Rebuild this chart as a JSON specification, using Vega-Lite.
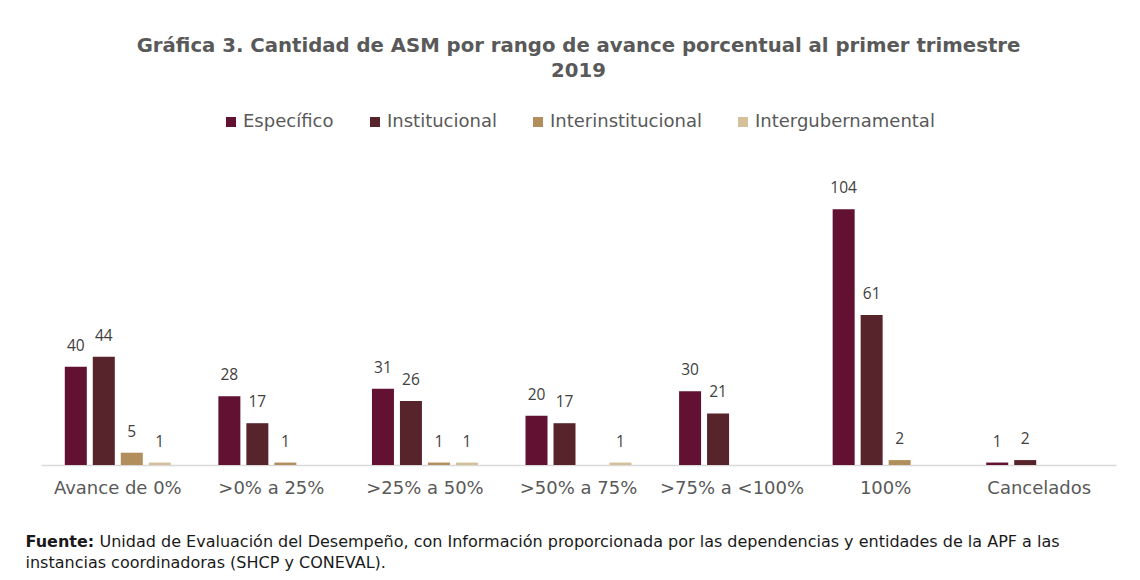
{
  "$schema": "https://vega.github.io/schema/vega-lite/v6.json",
  "width": 1075,
  "height": 295,
  "padding": {"left": 25, "top": 36, "right": 5, "bottom": 5},
  "background": "white",
  "title": {
    "text": ["Gráfica 3. Cantidad de ASM por rango de avance porcentual al primer trimestre", "2019"],
    "font": "DejaVu Sans",
    "fontSize": 19.7,
    "fontWeight": "bold",
    "color": "#595959",
    "lineHeight": 25,
    "anchor": "middle",
    "offset": 32
  },
  "data": {
    "values": [
      {"rango": "Avance de 0%", "tipo": "Específico", "valor": 40},
      {"rango": "Avance de 0%", "tipo": "Institucional", "valor": 44},
      {"rango": "Avance de 0%", "tipo": "Interinstitucional", "valor": 5},
      {"rango": "Avance de 0%", "tipo": "Intergubernamental", "valor": 1},
      {"rango": ">0% a 25%", "tipo": "Específico", "valor": 28},
      {"rango": ">0% a 25%", "tipo": "Institucional", "valor": 17},
      {"rango": ">0% a 25%", "tipo": "Interinstitucional", "valor": 1},
      {"rango": ">25% a 50%", "tipo": "Específico", "valor": 31},
      {"rango": ">25% a 50%", "tipo": "Institucional", "valor": 26},
      {"rango": ">25% a 50%", "tipo": "Interinstitucional", "valor": 1},
      {"rango": ">25% a 50%", "tipo": "Intergubernamental", "valor": 1},
      {"rango": ">50% a 75%", "tipo": "Específico", "valor": 20},
      {"rango": ">50% a 75%", "tipo": "Institucional", "valor": 17},
      {"rango": ">50% a 75%", "tipo": "Intergubernamental", "valor": 1},
      {"rango": ">75% a <100%", "tipo": "Específico", "valor": 30},
      {"rango": ">75% a <100%", "tipo": "Institucional", "valor": 21},
      {"rango": "100%", "tipo": "Específico", "valor": 104},
      {"rango": "100%", "tipo": "Institucional", "valor": 61},
      {"rango": "100%", "tipo": "Interinstitucional", "valor": 2},
      {"rango": "Cancelados", "tipo": "Específico", "valor": 1},
      {"rango": "Cancelados", "tipo": "Institucional", "valor": 2}
    ]
  },
  "encoding": {
    "x": {
      "field": "rango",
      "type": "nominal",
      "sort": ["Avance de 0%", ">0% a 25%", ">25% a 50%", ">50% a 75%", ">75% a <100%", "100%", "Cancelados"],
      "scale": {"paddingInner": 0, "paddingOuter": 0},
      "axis": {
        "labelAngle": 0,
        "labelFont": "DejaVu Sans",
        "labelFontSize": 18,
        "labelColor": "#595959",
        "labelPadding": 14,
        "labelLimit": 300,
        "ticks": false,
        "domainColor": "#D9D9D9",
        "domainWidth": 1.5,
        "grid": false,
        "title": "instancias coordinadoras (SHCP y CONEVAL).",
        "titleFont": "DejaVu Sans",
        "titleFontSize": 16,
        "titleFontWeight": "normal",
        "titleColor": "#1a1a1a",
        "titleAlign": "left",
        "titleBaseline": "alphabetic",
        "titleAnchor": "start",
        "titleX": -16,
        "titleY": 102
      }
    },
    "xOffset": {
      "field": "tipo",
      "type": "nominal",
      "sort": ["Específico", "Institucional", "Interinstitucional", "Intergubernamental"],
      "scale": {"paddingInner": 0.214, "paddingOuter": 0.85}
    }
  },
  "layer": [
    {
      "mark": {"type": "bar"},
      "encoding": {
        "y": {
          "field": "valor",
          "type": "quantitative",
          "scale": {"domain": [0, 120]},
          "axis": {
            "orient": "left",
            "labels": false,
            "ticks": false,
            "domain": false,
            "grid": false,
            "title": "Fuente:",
            "titleFont": "DejaVu Sans",
            "titleFontSize": 16,
            "titleFontWeight": "bold",
            "titleColor": "#1a1a1a",
            "titleAngle": 0,
            "titleAlign": "left",
            "titleBaseline": "alphabetic",
            "titleX": -16,
            "titleY": 376
          }
        },
        "color": {
          "field": "tipo",
          "type": "nominal",
          "scale": {
            "domain": ["Específico", "Institucional", "Interinstitucional", "Intergubernamental"],
            "range": ["#621132", "#56242A", "#B38E5D", "#D4C19C"]
          },
          "legend": {
            "orient": "top",
            "direction": "horizontal",
            "title": null,
            "symbolType": "square",
            "symbolSize": 100,
            "symbolStrokeWidth": 0,
            "labelFont": "DejaVu Sans",
            "labelFontSize": 18,
            "labelColor": "#595959",
            "labelOffset": 3,
            "labelLimit": 400,
            "columnPadding": 32,
            "offset": 39
          }
        }
      }
    },
    {
      "mark": {"type": "text", "baseline": "alphabetic", "dy": -16, "font": "Open Sans", "fontSize": 15.5, "color": "#404040"},
      "encoding": {
        "y": {
          "field": "valor",
          "type": "quantitative",
          "scale": {"domain": [0, 120]},
          "axis": {
            "orient": "right",
            "labels": false,
            "ticks": false,
            "domain": false,
            "grid": false,
            "title": "Unidad de Evaluación del Desempeño, con Información proporcionada por las dependencias y entidades de la APF a las",
            "titleFont": "DejaVu Sans",
            "titleFontSize": 16,
            "titleFontWeight": "normal",
            "titleColor": "#1a1a1a",
            "titleAngle": 0,
            "titleAlign": "left",
            "titleBaseline": "alphabetic",
            "titleX": -1017,
            "titleY": 376
          }
        },
        "text": {"field": "valor", "type": "quantitative"}
      }
    }
  ],
  "resolve": {"axis": {"y": "independent"}},
  "config": {
    "view": {"stroke": null},
    "legend": {"layout": {"top": {"anchor": "middle"}}}
  }
}
